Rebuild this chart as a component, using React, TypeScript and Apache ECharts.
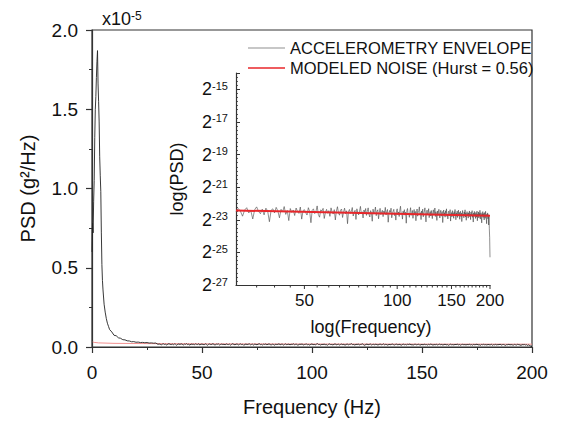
import React, { useEffect, useRef } from 'react';
import * as echarts from 'echarts';

const FONT = "'Liberation Sans', Arial, Helvetica, sans-serif";

// Main plot, low-frequency part of the envelope spectrum (Hz, PSD in 1e-5 g^2/Hz)
const lowFreqHz = [0, 0.25, 0.5, 0.75, 1.0, 1.25, 1.5, 1.75, 2.0, 2.25, 2.5, 2.75, 3.0, 3.25, 3.5, 3.75, 4.0, 4.25, 4.5, 4.75, 5.0, 5.5, 6.0, 6.5, 7.0, 7.5, 8, 9, 10, 11, 12, 13, 14, 15, 16, 17, 18, 19, 20, 21, 22, 23, 24, 25, 26, 27, 28, 29];
const lowFreqPsd = [0.60, 0.78, 0.72, 0.92, 1.05, 1.32, 1.50, 1.58, 1.70, 1.80, 1.87, 1.66, 1.55, 1.42, 1.20, 1.08, 0.98, 0.72, 0.52, 0.42, 0.36, 0.27, 0.22, 0.18, 0.15, 0.13, 0.11, 0.095, 0.074, 0.071, 0.058, 0.055, 0.046, 0.045, 0.039, 0.038, 0.033, 0.034, 0.030, 0.031, 0.028, 0.029, 0.027, 0.028, 0.025, 0.026, 0.024, 0.025];

// Envelope spectrum from 30 Hz to 200 Hz in 0.5 Hz bins, as log2(PSD)
const noiseStartHz = 30;
const noiseStepHz = 0.5;
const insetLog2Psd = [
  -22.52, -22.31, -22.47, -22.78, -22.40, -22.26, -22.58, -22.44, -22.95, -22.37, -22.21, -22.49, -22.63, -22.35, -22.70, -22.29, -22.46, -23.12, -22.41, -22.33,
  -22.58, -22.24, -22.45, -22.88, -22.36, -22.52, -22.19, -22.67, -22.43, -23.05, -22.31, -22.55, -22.40, -22.74, -22.28, -22.49, -22.61, -22.22, -22.96, -22.44,
  -22.38, -22.57, -22.71, -22.26, -22.49, -23.18, -22.42, -22.33, -22.62, -22.50, -22.15, -22.68, -22.84, -22.39, -22.47, -22.30, -22.92, -22.55, -22.36, -22.60,
  -22.44, -22.79, -22.27, -22.53, -22.65, -22.38, -23.01, -22.47, -22.20, -22.58, -22.72, -22.41, -22.34, -22.86, -22.52, -22.29, -22.63, -22.45, -23.24, -22.50,
  -22.37, -22.61, -22.48, -22.25, -22.77, -22.55, -22.42, -22.98, -22.33, -22.59, -22.70, -22.46, -22.18, -22.64, -22.51, -22.89, -22.40, -22.56, -22.31, -22.73,
  -22.49, -22.27, -22.66, -22.83, -22.44, -22.58, -23.09, -22.35, -22.62, -22.51, -22.22, -22.75, -22.47, -22.39, -22.94, -22.56, -22.30, -22.68, -22.53, -22.42,
  -22.81, -22.46, -22.59, -22.24, -22.71, -22.50, -22.37, -23.15, -22.63, -22.43, -22.55, -22.29, -22.88, -22.61, -22.48, -22.36, -22.74, -22.57, -23.02, -22.45,
  -22.33, -22.69, -22.52, -22.80, -22.41, -22.17, -22.63, -22.58, -22.96, -22.47, -22.65, -22.38, -22.72, -22.54, -23.21, -22.44, -22.31, -22.67, -22.59, -22.85,
  -22.50, -22.26, -22.73, -22.62, -22.43, -22.91, -22.55, -22.37, -22.68, -22.49, -23.06, -22.60, -22.34, -22.78, -22.52, -22.45, -22.21, -22.70, -22.57, -22.99,
  -22.46, -22.64, -22.35, -22.82, -22.59, -22.48, -22.27, -22.75, -23.13, -22.54, -22.41, -22.69, -22.58, -22.32, -22.87, -22.61, -22.50, -22.77, -22.43, -22.66,
  -22.93, -22.55, -22.39, -22.71, -22.62, -22.28, -22.80, -22.51, -22.67, -23.04, -22.46, -22.74, -22.58, -22.36, -22.65, -22.89, -22.53, -22.42, -22.78, -22.60,
  -22.49, -23.17, -22.66, -22.40, -22.73, -22.57, -22.84, -22.45, -22.62, -22.33, -22.79, -22.68, -22.95, -22.54, -22.47, -22.76, -22.61, -22.38, -23.08, -22.70,
  -22.56, -22.82, -22.44, -22.69, -22.60, -22.91, -22.50, -22.73, -22.37, -22.65, -23.00, -22.58, -22.78, -22.47, -22.86, -22.63, -22.41, -22.74, -22.55, -22.97,
  -22.62, -22.48, -22.80, -22.59, -23.11, -22.70, -22.43, -22.77, -22.64, -22.88, -22.52, -22.69, -22.39, -22.83, -22.58, -23.03, -22.66, -22.50, -22.75, -22.61,
  -22.90, -22.57, -22.72, -22.46, -22.81, -22.65, -22.99, -22.53, -22.76, -22.60, -22.44, -22.85, -22.68, -23.14, -22.58, -22.74, -22.49, -22.79, -22.63, -22.92,
  -22.55, -22.71, -22.84, -22.47, -23.06, -22.66, -22.78, -22.52, -22.89, -22.61, -22.73, -22.42, -22.96, -22.68, -22.57, -22.82, -23.19, -22.64, -22.75, -22.50,
  -22.86, -22.62, -22.79, -23.01, -22.56, -22.74, -22.91, -22.48, -22.70, -22.83, -23.24, -22.65, -22.77, -22.58, -22.94, -22.69, -23.32, -22.80, -23.55, -24.10,
  -25.30,
];

// Modeled noise (Hurst = 0.56)
const modelHz = [0.3, 1, 3, 10, 30, 60, 100, 150, 200];
const modelPsd = [0.032, 0.029, 0.026, 0.023, 0.021, 0.0195, 0.0188, 0.0182, 0.0178];
const insetModelHz = [30, 200];
const insetModelLog2 = [-22.43, -22.76];

// Inset x ticks (log frequency axis)
const insetTickHz = [35, 40, 45, 50, 55, 60, 65, 70, 75, 80, 85, 90, 95, 100, 105, 110, 115, 120, 125, 130, 135, 140, 145, 150, 155, 160, 165, 170, 175, 180, 185, 190, 195, 200];
const insetLabelHz = [50, 100, 150, 200];

const SERIES_A = 'ACCELEROMETRY ENVELOPE';
const SERIES_B = 'MODELED NOISE (Hurst = 0.56)';

export default function App() {
  const ref = useRef<HTMLDivElement>(null);

  useEffect(() => {
    if (!ref.current) return;
    const chart = echarts.init(ref.current, undefined, { renderer: 'svg' });

    const insetHz = insetLog2Psd.map((_, i) => noiseStartHz + i * noiseStepHz);
    const mainData: number[][] = lowFreqHz.map((f, i) => [f, lowFreqPsd[i]]);
    insetHz.forEach((f, i) => mainData.push([f, Math.pow(2, insetLog2Psd[i]) * 1e5]));
    const insetData = insetHz.map((f, i) => [f, insetLog2Psd[i]]);

    const axisColor = '#333';
    const textColor = '#111';

    const option: any = {
      animation: false,
      textStyle: { fontFamily: FONT },
      title: {
        text: '{a|x10}{b|-5}',
        left: 97,
        top: 5,
        textStyle: {
          fontWeight: 'normal',
          rich: {
            a: { fontSize: 18, color: textColor, fontFamily: FONT, fontWeight: 'normal' },
            b: { fontSize: 12, color: textColor, fontFamily: FONT, fontWeight: 'normal', verticalAlign: 'top' },
          },
        },
      },
      legend: {
        orient: 'vertical',
        left: 243,
        top: 34,
        icon: 'rect',
        itemWidth: 37,
        itemHeight: 1.5,
        itemGap: 2,
        textStyle: { fontSize: 16.5, color: textColor, fontFamily: FONT, lineHeight: 18 },
        data: [
          { name: SERIES_A, itemStyle: { color: '#b4b4b4' } },
          { name: SERIES_B, itemStyle: { color: '#e8262a' } },
        ],
      },
      grid: [
        { left: 92, top: 30, width: 440, height: 319, show: true, borderColor: axisColor, borderWidth: 1.2, backgroundColor: 'transparent' },
        { left: 236, top: 73, width: 254, height: 212 },
      ],
      xAxis: [
        {
          gridIndex: 0, type: 'value', min: 0, max: 200, interval: 50,
          name: 'Frequency (Hz)', nameLocation: 'middle', nameGap: 50,
          nameTextStyle: { fontSize: 20, color: textColor, fontFamily: FONT },
          axisLine: { lineStyle: { color: axisColor, width: 1.2 } },
          axisTick: { length: 6, lineStyle: { color: axisColor, width: 1.2 } },
          minorTick: { show: true, splitNumber: 2, length: 3, lineStyle: { color: axisColor, width: 1 } },
          axisLabel: { fontSize: 19, color: textColor, margin: 16, fontFamily: FONT },
          splitLine: { show: false },
        },
        {
          gridIndex: 1, type: 'log', logBase: 10, min: 30, max: 200,
          name: 'log(Frequency)', nameLocation: 'middle', nameGap: 33,
          nameTextStyle: { fontSize: 18, color: textColor, fontFamily: FONT, padding: [0, 0, 0, 16] },
          axisLine: { lineStyle: { color: axisColor, width: 1.2 } },
          axisTick: { show: false },
          minorTick: { show: false },
          axisLabel: { show: false },
          splitLine: { show: false },
        },
      ],
      yAxis: [
        {
          gridIndex: 0, type: 'value', min: 0, max: 2, interval: 0.5,
          name: 'PSD (g²/Hz)', nameLocation: 'middle', nameGap: 54,
          nameTextStyle: { fontSize: 20, color: textColor, fontFamily: FONT },
          axisLine: { show: true, lineStyle: { color: axisColor, width: 1.2 } },
          axisTick: { show: true, length: 6, lineStyle: { color: axisColor, width: 1.2 } },
          minorTick: { show: true, splitNumber: 2, length: 3, lineStyle: { color: axisColor, width: 1 } },
          axisLabel: { fontSize: 19, color: textColor, margin: 14, fontFamily: FONT, formatter: (v: number) => v.toFixed(1) },
          splitLine: { show: false },
        },
        {
          gridIndex: 1, type: 'value', min: -27, max: -14, interval: 2,
          name: 'log(PSD)', nameLocation: 'middle', nameGap: 50,
          nameTextStyle: { fontSize: 18, color: textColor, fontFamily: FONT },
          axisLine: { show: true, lineStyle: { color: axisColor, width: 1.2 } },
          axisTick: { show: true, inside: true, length: 4, lineStyle: { color: axisColor, width: 1 } },
          minorTick: { show: true, splitNumber: 8, length: 2, lineStyle: { color: axisColor, width: 0.8 } },
          axisLabel: {
            margin: 8,
            color: textColor,
            formatter: (v: number) => (v > -15 ? '' : `{b|2}{s|${v}}`),
            rich: {
              b: { fontSize: 18, color: textColor, fontFamily: FONT, verticalAlign: 'bottom' },
              s: { fontSize: 11, color: textColor, fontFamily: FONT, verticalAlign: 'top' },
            },
          },
          splitLine: { show: false },
        },
      ],
      series: [
        {
          name: SERIES_B, type: 'line', xAxisIndex: 0, yAxisIndex: 0,
          data: modelHz.map((f, i) => [f, modelPsd[i]]),
          showSymbol: false, lineStyle: { color: '#f29090', width: 1 }, itemStyle: { color: '#f29090' }, z: 2,
        },
        {
          name: SERIES_A, type: 'line', xAxisIndex: 0, yAxisIndex: 0,
          data: mainData, showSymbol: false,
          lineStyle: { color: '#222', width: 0.9 }, itemStyle: { color: '#222' }, z: 3,
        },
        {
          name: SERIES_A, type: 'line', xAxisIndex: 1, yAxisIndex: 1,
          data: insetData, showSymbol: false,
          lineStyle: { color: '#444', width: 0.6 }, itemStyle: { color: '#444' }, z: 3,
        },
        {
          name: SERIES_B, type: 'line', xAxisIndex: 1, yAxisIndex: 1,
          data: insetModelHz.map((f, i) => [f, insetModelLog2[i]]),
          showSymbol: false, lineStyle: { color: '#e8262a', width: 2 }, itemStyle: { color: '#e8262a' }, z: 4,
        },
        {
          type: 'custom', xAxisIndex: 1, yAxisIndex: 1, clip: false, silent: true, z: 5,
          data: insetTickHz.map((f) => [f, insetLabelHz.indexOf(f) >= 0 ? 1 : 0]),
          encode: { x: 0, y: 1 },
          renderItem: (params: any, api: any) => {
            const f = api.value(0);
            const major = api.value(1) === 1;
            const p = api.coord([f, -27]);
            const children: any[] = [
              {
                type: 'line',
                shape: { x1: p[0], y1: p[1], x2: p[0], y2: p[1] + (major ? 4 : 2.5) },
                style: { stroke: axisColor, lineWidth: 1 },
              },
            ];
            if (major) {
              children.push({
                type: 'text',
                x: p[0],
                y: p[1] + 7,
                style: {
                  text: String(f), fill: textColor, fontSize: 17, fontFamily: FONT,
                  align: 'center', verticalAlign: 'top', textAlign: 'center', textVerticalAlign: 'top',
                },
              });
            }
            return { type: 'group', children };
          },
        },
      ],
    };

    chart.setOption(option);
    return () => chart.dispose();
  }, []);

  return <div ref={ref} style={{ position: 'fixed', left: 0, top: 0, width: 565, height: 422, background: '#fff' }} />;
}
